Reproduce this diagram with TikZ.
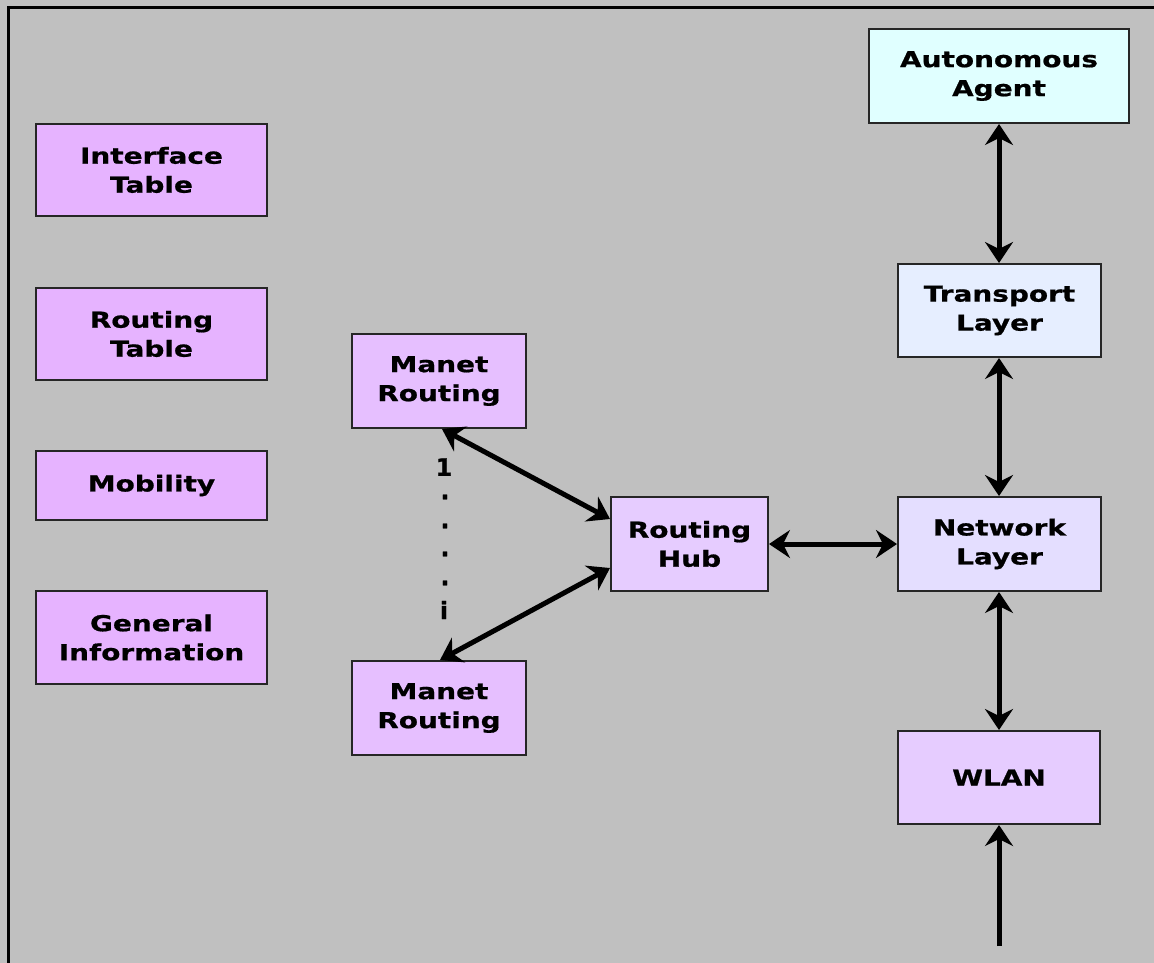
\documentclass[tikz,border=0pt]{standalone}
\usepackage{fontspec}
\usetikzlibrary{arrows.meta}
\newfontfamily\lblfont{DejaVu Sans}[UprightFont={* Bold},FakeStretch=1.27,FakeBold=0.8]
\newfontfamily\idxfont{DejaVu Sans}[UprightFont={* Bold},FakeBold=0.8]
\definecolor{bggray}{HTML}{C0C0C0}
\definecolor{infofill}{HTML}{E6B3FF}
\definecolor{manetfill}{HTML}{E6BFFF}
\definecolor{hubfill}{HTML}{E6CCFF}
\definecolor{netfill}{HTML}{E4DEFF}
\definecolor{transfill}{HTML}{E6EEFF}
\definecolor{agentfill}{HTML}{E0FFFF}
\tikzset{
  box/.style={draw=black!85, line width=2pt, rectangle, align=center,
    inner sep=0pt, font={\lblfont\fontsize{22}{29}\selectfont}},
  link/.style={line width=5pt, {Stealth[length=21pt,width=28pt,inset=7pt]}-{Stealth[length=21pt,width=28pt,inset=7pt]}},
  feed/.style={line width=5pt, -{Stealth[length=21pt,width=28pt,inset=7pt]}},
  idx/.style={font={\idxfont\fontsize{24}{26}\selectfont}, inner sep=0pt}
}
\begin{document}
\begin{tikzpicture}[x=1pt,y=-1pt]
  % canvas and frame
  \useasboundingbox (0,0) rectangle (1154,962);
  \fill[bggray] (-3,-3) rectangle (1157,965);
  \draw[line width=3pt] (8,965) -- (8,7) -- (1157,7);

  % data tables on the left
  \node[box, fill=infofill, minimum width=231pt, minimum height=92pt] (itab) at (151.5,170) {Interface\\Table};
  \node[box, fill=infofill, minimum width=231pt, minimum height=92pt] (rtab) at (151.5,334) {Routing\\Table};
  \node[box, fill=infofill, minimum width=231pt, minimum height=69pt] (mob) at (151.5,485.5) {Mobility};
  \node[box, fill=infofill, minimum width=231pt, minimum height=93pt] (ginfo) at (151.5,637.5) {General\\Information};

  % routing modules
  \node[box, fill=manetfill, minimum width=174pt, minimum height=94pt] (man1) at (439,381) {Manet\\Routing};
  \node[box, fill=manetfill, minimum width=174pt, minimum height=94pt] (man2) at (439,708) {Manet\\Routing};
  \node[box, fill=hubfill, minimum width=157pt, minimum height=94pt] (hub) at (689.5,544) {Routing\\Hub};

  % protocol stack
  \node[box, fill=agentfill, minimum width=260pt, minimum height=94pt] (agent) at (999,76) {Autonomous\\Agent};
  \node[box, fill=transfill, minimum width=203pt, minimum height=93pt] (trans) at (999.5,310.5) {Transport\\Layer};
  \node[box, fill=netfill, minimum width=203pt, minimum height=94pt] (net) at (999.5,544) {Network\\Layer};
  \node[box, fill=hubfill, minimum width=202pt, minimum height=93pt] (wlan) at (999,777.5) {WLAN};
  \coordinate (radio) at (999,946);

  % index range of the routing instances
  \node[idx] (i1) at (444,467) {1};
  \node[idx] (d1) at (445,497) {.};
  \node[idx] (d2) at (445,526) {.};
  \node[idx] (d3) at (445,554) {.};
  \node[idx] (d4) at (445,583) {.};
  \node[idx] (ii) at (444,610) {i};

  % connectors
  \draw[link] ([xshift=3pt]man1.south) -- ([yshift=25pt]hub.west);
  \draw[link] ([xshift=1pt]man2.north) -- ([yshift=-24pt]hub.west);
  \draw[link] (hub.east) -- (net.west);
  \draw[link] ([xshift=-0.5pt]net.north) -- ([xshift=-0.5pt]trans.south);
  \draw[link] ([xshift=-0.5pt]trans.north) -- (agent.south);
  \draw[link] ([xshift=-0.5pt]net.south) -- (wlan.north);
  \draw[feed] (radio) -- (wlan.south);
\end{tikzpicture}
\end{document}
